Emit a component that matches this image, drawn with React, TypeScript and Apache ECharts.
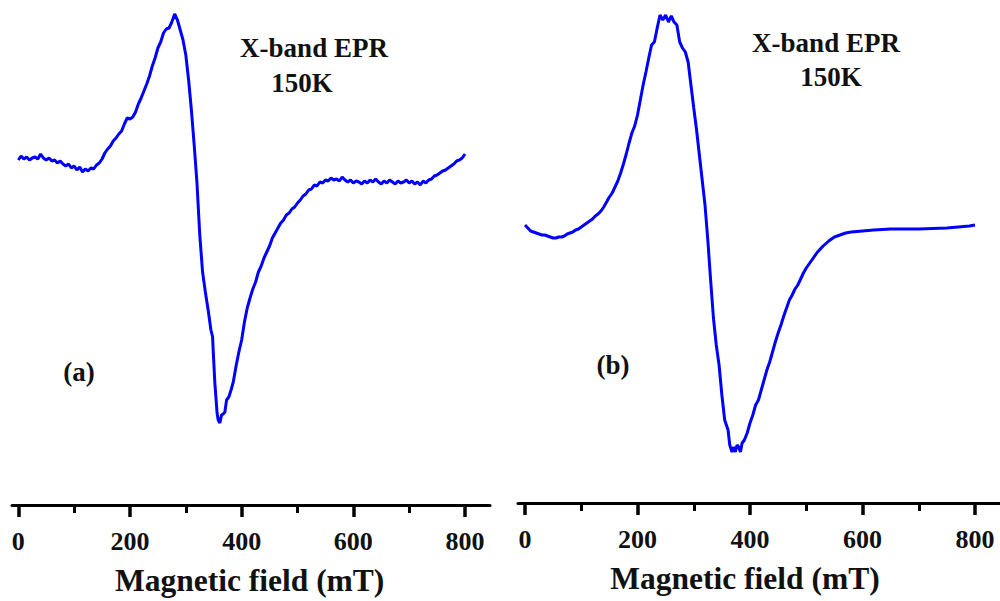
import React, { useEffect, useRef } from "react";
import * as echarts from "echarts";

// Magnetic field (mT) vs. EPR derivative signal (arbitrary units)
const curveA: [number, number][] = [
  [0, 345], [5, 349], [10, 346], [15, 348], [20, 345], [25, 347], [30, 348], [35, 346], [40, 351], [45, 347],
  [50, 345], [55, 347], [60, 344], [65, 345], [70, 342], [75, 344], [80, 341], [85, 339], [90, 341], [95, 337],
  [100, 339], [105, 335], [110, 338], [115, 333], [120, 336], [125, 334], [130, 337], [135, 336], [140, 340], [145, 342],
  [150, 346], [155, 352], [160, 356], [165, 359], [170, 364], [175, 367], [180, 371], [185, 374], [190, 381], [195, 387],
  [200, 386], [205, 388], [210, 393], [215, 401], [220, 407], [225, 414], [230, 421], [235, 429], [240, 439], [245, 447],
  [250, 457], [255, 463], [260, 472], [265, 476], [270, 477], [275, 483], [280, 491], [285, 485], [290, 475], [295, 465],
  [300, 450], [305, 425], [310, 395], [315, 360], [320, 322], [325, 270], [330, 233], [335, 213], [340, 195], [345, 175],
  [348, 168], [349, 155], [352, 122], [356, 92], [358, 85], [361, 82], [364, 90], [367, 91], [370, 93], [373, 105],
  [377, 108], [381, 115], [385, 123], [390, 139], [395, 153], [400, 165], [405, 183], [410, 197], [415, 207], [420, 216],
  [425, 223], [430, 233], [435, 239], [440, 247], [445, 253], [450, 259], [455, 267], [460, 272], [465, 277], [470, 282],
  [475, 285], [480, 290], [485, 292], [490, 296], [495, 298], [500, 302], [505, 305], [510, 309], [515, 311], [520, 315],
  [525, 316], [530, 320], [535, 319], [540, 323], [545, 322], [550, 325], [555, 324], [560, 327], [565, 325], [570, 326],
  [575, 324], [580, 328], [585, 325], [590, 323], [595, 325], [600, 322], [605, 324], [610, 323], [615, 321], [620, 324],
  [625, 322], [630, 325], [635, 323], [640, 326], [645, 323], [650, 321], [655, 324], [660, 322], [665, 325], [670, 323],
  [675, 321], [680, 324], [685, 322], [690, 323], [695, 325], [700, 322], [705, 324], [710, 321], [715, 323], [720, 320],
  [725, 324], [730, 322], [735, 325], [740, 326], [745, 329], [750, 330], [755, 332], [760, 334], [765, 335], [770, 337],
  [775, 339], [780, 341], [785, 344], [790, 345], [795, 347], [800, 351],
];

const curveB: [number, number][] = [
  [0, 278], [5, 275], [10, 272], [15, 271], [20, 270], [25, 269], [30, 268], [35, 268], [40, 267], [45, 266],
  [50, 265], [55, 265], [60, 266], [65, 266], [70, 267], [75, 269], [80, 270], [85, 271], [90, 273], [95, 274],
  [100, 276], [105, 278], [110, 280], [115, 282], [120, 284], [125, 287], [130, 289], [135, 292], [140, 296], [145, 301],
  [150, 306], [155, 310], [160, 316], [165, 322], [170, 330], [175, 339], [180, 349], [185, 360], [190, 370], [195, 377],
  [200, 388], [205, 403], [210, 418], [215, 431], [220, 445], [225, 458], [230, 461], [235, 475], [240, 488], [245, 483],
  [250, 488], [255, 481], [260, 487], [265, 481], [270, 478], [275, 461], [280, 455], [285, 451], [290, 441], [295, 418],
  [300, 395], [305, 373], [310, 348], [315, 323], [320, 298], [325, 263], [330, 223], [335, 185], [340, 158], [345, 138],
  [350, 108], [355, 83], [358, 78], [361, 73], [364, 58], [368, 51], [371, 56], [374, 51], [377, 58], [380, 56],
  [383, 51], [386, 60], [390, 63], [395, 70], [400, 80], [405, 88], [410, 98], [415, 103], [420, 113], [425, 123],
  [430, 133], [435, 141], [440, 151], [445, 161], [450, 170], [455, 178], [460, 187], [465, 195], [470, 203], [475, 208],
  [480, 214], [485, 218], [490, 224], [495, 230], [500, 235], [510, 243], [520, 251], [530, 257], [540, 262], [550, 266],
  [560, 268], [570, 270], [580, 271], [600, 272], [620, 273], [650, 274], [700, 274], [750, 275], [770, 276], [790, 277],
  [800, 278],
];

const fieldMin = 0;
const fieldMax = 800;
const majorStep = 200;
const axisTitle = "Magnetic field (mT)";
const bandLabel = "X-band EPR";
const tempLabel = "150K";
const panelLabels = ["(a)", "(b)"];

const FONT = '"Liberation Serif", "Times New Roman", serif';

export default function App() {
  const ref = useRef<HTMLDivElement>(null);

  useEffect(() => {
    if (!ref.current) return;
    const chart = echarts.init(ref.current, null, { renderer: "svg" });

    // Data axis: ticks, minor ticks, labels and title (its own line hidden)
    const dataX = (gridIndex: number, namePad: number[]) => ({
      type: "value",
      gridIndex,
      min: fieldMin,
      max: fieldMax,
      interval: majorStep,
      position: "bottom",
      axisLine: { show: false, onZero: false },
      axisTick: { show: true, length: 12, lineStyle: { color: "#000", width: 3.5 } },
      minorTick: { show: true, splitNumber: 2, length: 8, lineStyle: { color: "#000", width: 3 } },
      axisLabel: {
        show: true,
        margin: 23,
        color: "#111",
        fontFamily: FONT,
        fontWeight: "bold",
        fontSize: 26,
        showMinLabel: true,
        showMaxLabel: true,
      },
      splitLine: { show: false },
      minorSplitLine: { show: false },
      name: axisTitle,
      nameLocation: "middle",
      nameGap: 59,
      nameTextStyle: { color: "#111", fontFamily: FONT, fontWeight: "bold", fontSize: 31.5, padding: namePad },
    });

    // Frame axis: only the long bottom line
    const lineX = (gridIndex: number) => ({
      type: "value",
      gridIndex,
      min: 0,
      max: 1,
      position: "bottom",
      axisLine: { show: true, onZero: false, lineStyle: { color: "#000", width: 3 } },
      axisTick: { show: false },
      axisLabel: { show: false },
      splitLine: { show: false },
    });

    const hiddenY = (gridIndex: number) => ({
      type: "value",
      gridIndex,
      min: 0,
      max: 500,
      show: false,
      splitLine: { show: false },
    });

    const textEl = (text: string, x: number, y: number) => ({
      type: "text",
      x,
      y,
      style: {
        text,
        fill: "#111",
        font: `bold 27px ${FONT}`,
        textAlign: "center",
        textVerticalAlign: "middle",
        align: "center",
        verticalAlign: "middle",
      },
    });

    chart.setOption({
      animation: false,
      backgroundColor: "#ffffff",
      grid: [
        { left: 18.3, top: 5, width: 446.7, height: 500 },
        { left: 12, top: 5, width: 478, height: 500 },
        { left: 525, top: 3, width: 450, height: 500 },
        { left: 518, top: 3, width: 482, height: 500 },
      ],
      xAxis: [
        dataX(0, [0, 0, 0, 16]),
        lineX(1),
        dataX(2, [0, 10, 0, 0]),
        lineX(3),
      ],
      yAxis: [hiddenY(0), hiddenY(1), hiddenY(2), hiddenY(3)],
      series: [
        {
          type: "line",
          xAxisIndex: 0,
          yAxisIndex: 0,
          data: curveA,
          showSymbol: false,
          lineStyle: { color: "#0000ff", width: 3 },
        },
        {
          type: "line",
          xAxisIndex: 2,
          yAxisIndex: 2,
          data: curveB,
          showSymbol: false,
          lineStyle: { color: "#0000ff", width: 3 },
        },
      ],
      graphic: [
        textEl(bandLabel, 314, 48),
        textEl(tempLabel, 302, 83),
        textEl(panelLabels[0], 79, 372),
        textEl(bandLabel, 826, 43),
        textEl(tempLabel, 831, 77),
        textEl(panelLabels[1], 613, 365),
      ],
    });

    return () => chart.dispose();
  }, []);

  return (
    <div
      ref={ref}
      style={{ position: "absolute", left: 0, top: 0, width: 1000, height: 601, background: "#fff" }}
    />
  );
}
